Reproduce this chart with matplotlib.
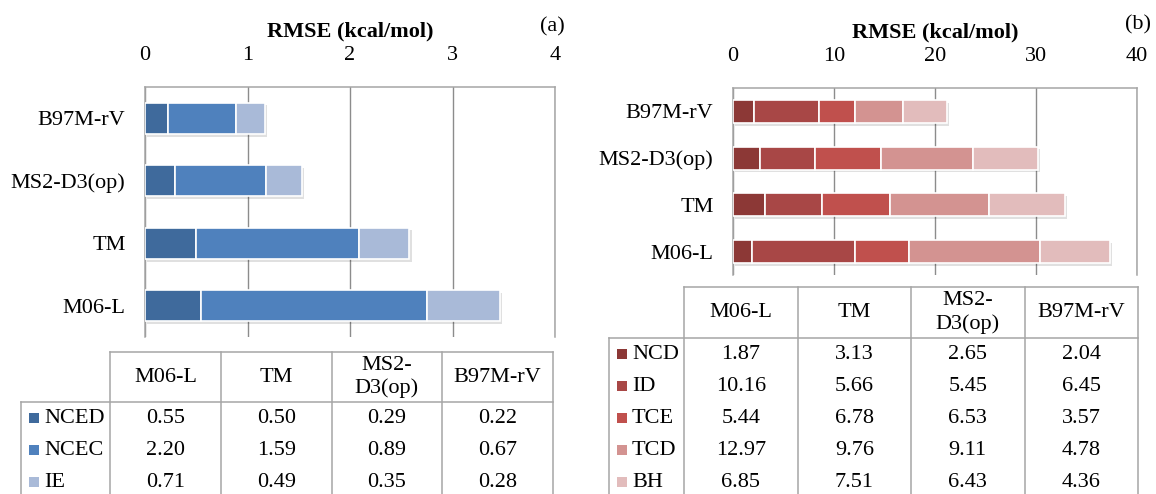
import matplotlib
matplotlib.use('Agg')
import matplotlib.pyplot as plt
import matplotlib.patheffects as pe
import numpy as np

plt.rcParams['font.family'] = ['Liberation Serif', 'DejaVu Serif']

# methods in table order (bottom -> top on the bars)
methods = ['M06-L', 'TM', 'MS2-D3(op)', 'B97M-rV']
heads = ['M06-L', 'TM', 'MS2-\nD3(op)', 'B97M-rV']

# panel (a)
names_a = ['NCED', 'NCEC', 'IE']
nced = [0.55, 0.50, 0.29, 0.22]
ncec = [2.20, 1.59, 0.89, 0.67]
ie = [0.71, 0.49, 0.35, 0.28]
cols_a = ['#3F6A9C', '#4F81BD', '#A9BAD8']

# panel (b)
names_b = ['NCD', 'ID', 'TCE', 'TCD', 'BH']
ncd = [1.87, 3.13, 2.65, 2.04]
id_ = [10.16, 5.66, 5.45, 6.45]
tce = [5.44, 6.78, 6.53, 3.57]
tcd = [12.97, 9.76, 9.11, 4.78]
bh = [6.85, 7.51, 6.43, 4.36]
cols_b = ['#8C3836', '#A84746', '#C0504D', '#D39391', '#E2BCBC']

W, H = 1156, 494
fs = 16
grid_c = '#8C8C8C'
line_c = '#A6A6A6'

fig = plt.figure(figsize=(W/100, H/100), dpi=100)

def px_axes(l, t, r, b):
    return fig.add_axes([l/W, 1-b/H, (r-l)/W, (b-t)/H])

def panel(ax, series, colors, xmax, step, height):
    y = np.arange(len(methods))
    left = np.zeros(len(methods))
    shadow = [pe.SimplePatchShadow(offset=(1.5, -2), shadow_rgbFace='k', alpha=0.12), pe.Normal()]
    for vals, c in zip(series, colors):
        bars = ax.barh(y, vals, left=left, height=height, color=c,
                       edgecolor='white', linewidth=1.2, zorder=3)
        for b in bars:
            b.set_path_effects(shadow)
        left += np.array(vals)
    ax.set_xlim(0, xmax)
    ax.set_ylim(-0.5, len(methods)-0.5)
    ax.set_xticks(np.arange(0, xmax+step/2, step))
    ax.set_yticks(y)
    ax.set_yticklabels(methods)
    ax.xaxis.tick_top()
    ax.tick_params(axis='x', length=0, pad=16, labelsize=fs)
    ax.tick_params(axis='y', length=0, pad=14, labelsize=fs)
    ax.grid(axis='x', color=grid_c, linewidth=1.0, zorder=0)
    ax.set_axisbelow(True)
    for s in ['top', 'left', 'right']:
        ax.spines[s].set_color(line_c)
        ax.spines[s].set_linewidth(1.1)
    ax.spines['bottom'].set_visible(False)
    ax.xaxis.set_label_position('top')
    ax.set_xlabel('RMSE (kcal/mol)', fontsize=16, fontweight='bold', labelpad=7)

ax_a = px_axes(145, 87, 555, 337)
panel(ax_a, [nced, ncec, ie], cols_a, 4, 1, 0.5)
ax_b = px_axes(733, 88, 1137, 275)
panel(ax_b, [ncd, id_, tce, tcd, bh], cols_b, 40, 10, 0.49)

fig.text(552/W, 1-27/H, '(a)', fontsize=fs, ha='center', va='center')
fig.text(1138/W, 1-25/H, '(b)', fontsize=fs, ha='center', va='center')

# data tables below the bars
axt = fig.add_axes([0, 0, 1, 1])
axt.set_xlim(0, W)
axt.set_ylim(H, 0)
axt.axis('off')

def table(xl, x0, x1, ytop, yhead, names, series, colors):
    ncol = len(heads)
    xs = np.linspace(x0, x1, ncol+1)
    rh = 32
    kw = dict(color=line_c, linewidth=1.1)
    axt.plot([x0, x1], [ytop, ytop], **kw)
    axt.plot([xl, x1], [yhead, yhead], **kw)
    for x in xs:
        axt.plot([x, x], [ytop, H], **kw)
    axt.plot([xl, xl], [yhead, H], **kw)
    for i, h in enumerate(heads):
        axt.text((xs[i]+xs[i+1])/2, (ytop+yhead)/2, h, fontsize=fs,
                 ha='center', va='center', linespacing=1.25)
    for r, (nm, vals, c) in enumerate(zip(names, series, colors)):
        yc = yhead + rh/2 + r*rh
        axt.scatter([xl+13], [yc], marker='s', s=45, color=c, linewidths=0)
        axt.text(xl+23, yc, nm, fontsize=fs, ha='left', va='center')
        for i, v in enumerate(vals):
            axt.text((xs[i]+xs[i+1])/2, yc, f'{v:.2f}', fontsize=fs,
                     ha='center', va='center')

table(21, 110, 553, 352, 402, names_a, [nced, ncec, ie], cols_a)
table(609, 684, 1138, 287, 338, names_b, [ncd, id_, tce, tcd, bh], cols_b)

fig.savefig('out.png', dpi=100)
